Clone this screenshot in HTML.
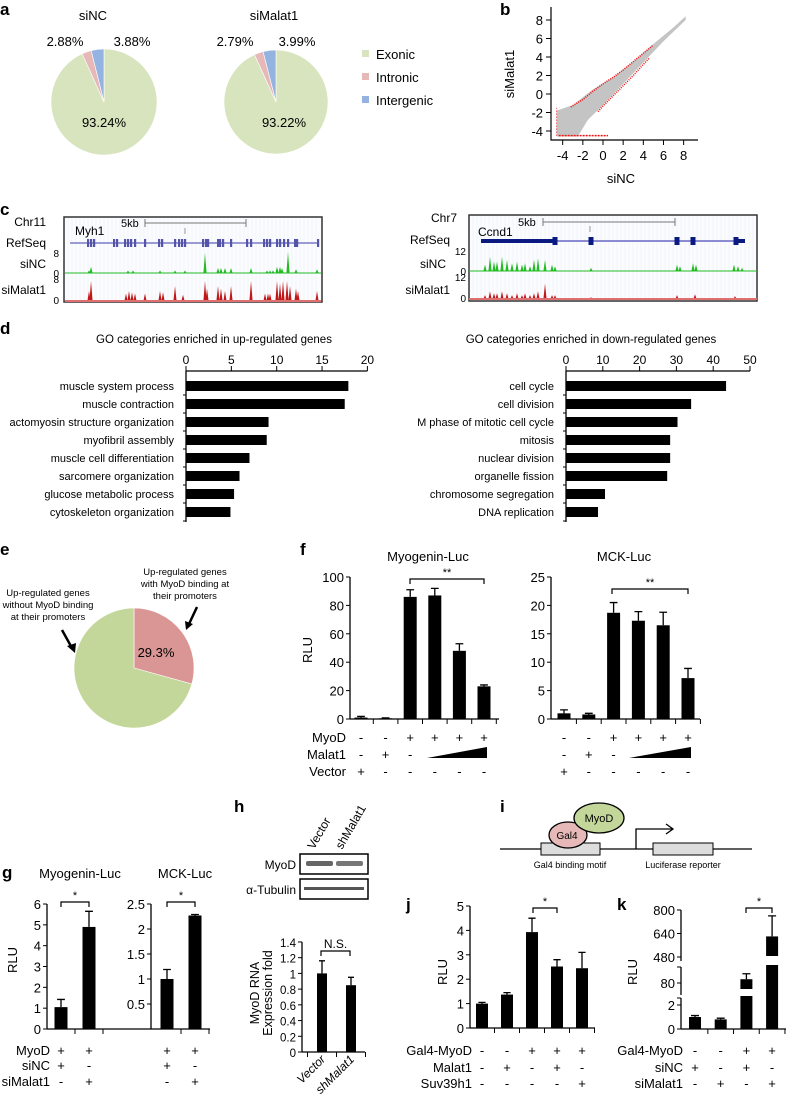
<!DOCTYPE html>
<html><head><meta charset="utf-8"><style>
html,body{margin:0;padding:0;background:#fff;}
svg{display:block;font-family:"Liberation Sans Narrow","Liberation Sans",sans-serif;}
.pl{font-family:"Liberation Sans",sans-serif;font-weight:bold;font-size:17px;}
</style></head><body>
<svg id="fig" width="787" height="1094" viewBox="0 0 787 1094">
<g>
<text class="pl" x="0" y="15">a</text><text class="pl" x="500" y="15">b</text>
<text class="pl" x="0" y="215">c</text><text class="pl" x="0" y="334">d</text>
<text class="pl" x="0" y="555">e</text><text class="pl" x="300" y="555">f</text>
<text class="pl" x="2" y="878">g</text><text class="pl" x="234" y="812">h</text>
<text class="pl" x="500" y="812">i</text><text class="pl" x="406" y="910">j</text>
<text class="pl" x="617" y="910">k</text>
</g>
</svg>
<script>
// ---------- DATA ----------
const pieCats=['Exonic','Intronic','Intergenic'];
const pieSiNC=[93.24,2.88,3.88];
const pieSiMalat1=[93.22,2.79,3.99];
const pieColors=['#d7e4bd','#e6b9b8','#95b3e0'];
const goUpCats=['muscle system process','muscle contraction','actomyosin structure organization','myofibril assembly','muscle cell differentiation','sarcomere organization','glucose metabolic process','cytoskeleton organization'];
const goUpVals=[17.9,17.5,9.1,8.9,7.0,5.9,5.3,4.9];
const goUpTicks=[0,5,10,15,20];
const goDownCats=['cell cycle','cell division','M phase of mitotic cell cycle','mitosis','nuclear division','organelle fission','chromosome segregation','DNA replication'];
const goDownVals=[43.5,34,30.3,28.3,28.3,27.5,10.6,8.7];
const goDownTicks=[0,10,20,30,40,50];
const eVals=[29.3,70.7];
const f1Vals=[1,0.5,86,87,48,23];const f1Errs=[0.8,0.3,5,5,5,1];const f1Ticks=[0,20,40,60,80,100];
const f2Vals=[1,0.8,18.7,17.3,16.5,7.2];const f2Errs=[0.6,0.2,1.8,1.6,2.3,1.7];const f2Ticks=[0,5,10,15,20,25];
const fMyoD=['-','-','+','+','+','+'];const fMalat1=['-','+','-','','',''];const fVector=['+','-','-','-','-','-'];
const g1Vals=[1.05,4.9];const g1Errs=[0.37,0.75];const g1Ticks=[0,1,2,3,4,5,6];
const g2Vals=[1.0,2.27];const g2Errs=[0.19,0.02];const g2Ticks=[0,0.5,1,1.5,2,2.5];const g2TickLabels=['','0.5','1','1.5','2','2.5'];
const gMyoD=['+','+'];const gSiNC=['+','-'];const gSiMalat1=['-','+'];
const hVals=[1.0,0.85];const hErrs=[0.16,0.1];const hTicks=[0,0.2,0.4,0.6,0.8,1,1.2,1.4];const hTickLabels=['0','0.2','0.4','0.6','0.8','1','1.2','1.4'];
const hCats=['Vector','shMalat1'];
const jVals=[1.0,1.37,3.93,2.52,2.45];const jErrs=[0.05,0.08,0.57,0.28,0.65];const jTicks=[0,1,2,3,4,5];
const jGal4=['-','-','+','+','+'];const jMalat1=['-','+','-','+','-'];const jSuv=['-','-','-','-','+'];
const kVals=[1.0,0.8,89,620];const kErrs=[0.12,0.1,13,140];const kTicks=[0,2,80,480,640,800];
const kGal4=['-','-','+','+'];const kSiNC=['+','-','+','-'];const kSiMalat1=['-','+','-','+'];
// genome tracks
const myhExons=[88,91,94,114,117,125,128,131,135,145,159,162,175,179,182,185,203,206,208,218,220,223,231,247,251,264,267,270,277,280,284,288,295,297,318];
const myhNCpos=[91,89,128,133,160,175,185,205,218,221,225,231,251,267,270,273,277,280,282,288,296,317];
const myhNCval=[2.5,1,1,1,1,1,1,8,2,2,2,2,2,1,1,1,2.5,2.5,2,8.5,1.5,1.5];
const myhMPos=[89,91,126,129,132,135,145,160,163,175,183,205,207,218,221,225,231,251,265,268,270,277,280,283,287,290,296,298,317];
const myhMVal=[4,8,3,4,3.5,3,3,4,3.5,6,2.5,8,5,6,5,4,6,8,3,3,3,8,7,8,8,6,5,4,4];
const ccnExons=[555,591,677,693,736];
const ccnNCpos=[485,490,494,497,502,507,512,517,522,525,530,534,538,545,552,555,591,677,680,693,696,734,738,742];
const ccnNCval=[4,9,6,6,9,7,5,6,4,5,3,7,8,7,4,3,2,4,3,5,4,4,3,2];
const ccnMPos=[485,490,494,497,502,507,512,517,522,525,530,534,538,545,552,555,591,677,695,735];
const ccnMVal=[2,4,3,3,4,3,2,3,2,3,2,3,4,8,2,2,1,2,2.5,1.5];

// ---------- HELPERS ----------
const NS='http://www.w3.org/2000/svg';
const svg=document.getElementById('fig');
function mk(tag,a,p){const e=document.createElementNS(NS,tag);for(const k in a)e.setAttribute(k,a[k]);(p||svg).appendChild(e);return e;}
function txt(s,a,p){const e=mk('text',a,p);e.textContent=s;return e;}
function grp(name){const g=mk('g',{});return g;}

// ---------- PANEL A ----------
function pie(g,cx,cy,r,vals,colors,start){
  let a=start;const tot=vals.reduce((s,v)=>s+v,0);
  vals.forEach((v,i)=>{
    const a2=a+v/tot*2*Math.PI;
    const x1=cx+r*Math.sin(a),y1=cy-r*Math.cos(a),x2=cx+r*Math.sin(a2),y2=cy-r*Math.cos(a2);
    const large=(a2-a)>Math.PI?1:0;
    const p=mk('path',{d:`M${cx},${cy}L${x1},${y1}A${r},${r} 0 ${large} 1 ${x2},${y2}Z`,fill:colors[i],stroke:'#fff','stroke-width':0.6},g);
    
    
    a=a2;
  });
}
(function(){
  const g=grp('panel-a-pies');
  const t1=txt('siNC',{x:93,y:20,'font-size':13,'text-anchor':'middle'},g);
  const t2=txt('siMalat1',{x:274,y:20,'font-size':13,'text-anchor':'middle'},g);
  pie(g,104,102,53,pieSiNC,pieColors,0);
  pie(g,276,102,52,pieSiMalat1,pieColors,0);
  const lbl=[[pieSiNC[1],65],[pieSiNC[2],132],[pieSiMalat1[1],235],[pieSiMalat1[2],297]];
  lbl.forEach(l=>{const t=txt(l[0].toFixed(2)+'%',{x:l[1],y:46,'font-size':13,'text-anchor':'middle'},g);});
  const m1=txt(pieSiNC[0].toFixed(2)+'%',{x:104,y:127,'font-size':13,'text-anchor':'middle'},g);
  const m2=txt(pieSiMalat1[0].toFixed(2)+'%',{x:284,y:127,'font-size':13,'text-anchor':'middle'},g);
  const ly=[55,78,101];
  pieCats.forEach((c,i)=>{
    const r=mk('rect',{x:362,y:ly[i]-5,width:7,height:7,fill:pieColors[i]},g);
    
    const t=txt(c,{x:376,y:ly[i]+4,'font-size':13},g);
    
  });
})();

// ---------- PANEL B ----------
(function(){
  const g=grp('panel-b-scatter');
  const bx=v=>603+v*10.08, by=v=>94-v*9.25;
  const cloud=[[-4.6,-4.6],[-4.6,-1.8],[-3,-1.2],[-1,0.5],[1,1.8],[3,3.5],[5,5.4],[7,7.2],[8.2,8.4],[8.2,8.0],[6,5.7],[4,3.4],[2,1.1],[0,-1.2],[-1.5,-2.8],[-2.5,-4.6]];
  const p=mk('polygon',{points:cloud.map(c=>bx(c[0])+','+by(c[1])).join(' '),fill:'#c4c4c4'},g);
  
  const up=[[-3.2,-1.4],[-2,-0.6],[-1,0.3],[0,1.1],[1,1.8],[2,2.6],[3,3.5],[4,4.4],[5,5.3]];
  const lo=[[-0.5,-1.9],[0,-1.3],[1,-0.2],[2,0.9],[3,2.0],[4,3.2],[4.6,3.9]];
  [up,lo].forEach(arr=>{const l=mk('polyline',{points:arr.map(c=>bx(c[0])+','+by(c[1])).join(' '),fill:'none',stroke:'#ee1111','stroke-width':1.6,'stroke-dasharray':'1 1.2'},g);});
  const b1=mk('line',{x1:bx(-4.4),y1:by(-4.5),x2:bx(0.5),y2:by(-4.5),stroke:'#ee1111','stroke-width':1.4,'stroke-dasharray':'2 1'},g);
  const b2=mk('line',{x1:bx(-4.6),y1:by(-4.5),x2:bx(-4.6),y2:by(-1.5),stroke:'#ee1111','stroke-width':1,'stroke-dasharray':'1 2'},g);
  const ax=mk('path',{d:'M551,7V140H698',fill:'none',stroke:'#000','stroke-width':1.2},g);
  [-4,-2,0,2,4,6,8].forEach(v=>{
    mk('line',{x1:bx(v),y1:140,x2:bx(v),y2:145,stroke:'#000'},g);
    const t=txt(String(v),{x:bx(v),y:160,'font-size':13,'text-anchor':'middle'},g);
    mk('line',{x1:546,y1:by(v),x2:551,y2:by(v),stroke:'#000'},g);
    const u=txt(String(v),{x:543,y:by(v)+5,'font-size':13,'text-anchor':'end'},g);
  });
  const xt=txt('siNC',{x:621,y:183,'font-size':13,'text-anchor':'middle'},g);
  const yt=txt('siMalat1',{x:0,y:0,'font-size':13,'text-anchor':'middle',transform:'translate(514,74) rotate(-90)'},g);
})();

// ---------- PANEL C ----------
function track(g,x0,x1,base,top,maxV,pos,vals,color){
  const s=(base-top)/maxV;
  mk('line',{x1:x0,y1:base,x2:x1,y2:base,stroke:color,'stroke-width':1},g);
  pos.forEach((p,i)=>{
    const h=vals[i]*s;
    const pk=mk('path',{d:`M${p-1.6},${base}L${p},${base-h}L${p+1.6},${base}Z`,fill:color},g);
    
  });
}
(function(){
  const g=grp('panel-c-browser-myh1');
  const bg=mk('rect',{x:64,y:217,width:258,height:85,fill:'#fbfcff',stroke:'#333','stroke-width':1.5},g);
  for(let x=68;x<320;x+=4)mk('line',{x1:x,y1:218,x2:x,y2:301,stroke:'#eef0f6','stroke-width':0.6},g);
  mk('line',{x1:145,y1:223,x2:246,y2:223,stroke:'#777'},g);mk('line',{x1:145,y1:219,x2:145,y2:227,stroke:'#777'},g);mk('line',{x1:246,y1:219,x2:246,y2:227,stroke:'#777'},g);
  mk('line',{x1:185,y1:228,x2:185,y2:234,stroke:'#999'},g);
  txt('5kb',{x:121,y:227,'font-size':11},g);txt('Myh1',{x:75,y:235,'font-size':12},g);
  mk('line',{x1:70,y1:243,x2:319,y2:243,stroke:'#7b7bc8','stroke-width':1.5},g);
  myhExons.forEach(x=>{const r=mk('rect',{x:x-1,y:239,width:2.2,height:8,fill:'#5454aa'},g);});
  track(g,65,321,273,253,8,myhNCpos,myhNCval,'#22bb22');
  track(g,65,321,301,281,8,myhMPos,myhMVal,'#c01818');
  mk('line',{x1:65,y1:301,x2:321,y2:301,stroke:'#e07070','stroke-width':2},g);
  [['Chr11',226],['RefSeq',247],['siNC',268],['siMalat1',294]].forEach(l=>{const t=txt(l[0],{x:46,y:l[1],'font-size':12,'text-anchor':'end'},g);});
  [['8',257],['0',277],['8',283],['0',304]].forEach(l=>{txt(l[0],{x:59,y:l[1],'font-size':10,'text-anchor':'end'},g);});
})();
(function(){
  const g=grp('panel-c-browser-ccnd1');
  const bg=mk('rect',{x:469,y:215,width:288,height:86,fill:'#fbfcff',stroke:'#333','stroke-width':1.5},g);
  for(let x=473;x<755;x+=4)mk('line',{x1:x,y1:216,x2:x,y2:300,stroke:'#eef0f6','stroke-width':0.6},g);
  mk('line',{x1:543,y1:222,x2:675,y2:222,stroke:'#777'},g);mk('line',{x1:543,y1:218,x2:543,y2:226,stroke:'#777'},g);mk('line',{x1:675,y1:218,x2:675,y2:226,stroke:'#777'},g);
  mk('line',{x1:590,y1:226,x2:590,y2:232,stroke:'#999'},g);
  txt('5kb',{x:518,y:226,'font-size':11},g);txt('Ccnd1',{x:478,y:236,'font-size':12},g);
  mk('line',{x1:481,y1:241,x2:745,y2:241,stroke:'#4a4ab8','stroke-width':1.2},g);
  mk('rect',{x:481,y:239,width:74,height:4,fill:'#0a1a80'},g);
  ccnExons.forEach(x=>{const r=mk('rect',{x:x-2.5,y:237,width:5,height:8,fill:'#0a1a80'},g);});
  mk('path',{d:'M736,239H745V243H736Z',fill:'#0a1a80'},g);
  track(g,469,757,271,252,12,ccnNCpos,ccnNCval,'#22bb22');
  track(g,469,757,299,276,12,ccnMPos,ccnMVal,'#c01818');
  mk('line',{x1:469,y1:299,x2:757,y2:299,stroke:'#e07070','stroke-width':2},g);
  [['Chr7',222,457],['RefSeq',244,450],['siNC',268,446],['siMalat1',294,450]].forEach(l=>{const t=txt(l[0],{x:l[2],y:l[1],'font-size':12,'text-anchor':'end'},g);});
  [['12',255],['0',275],['12',281],['0',302]].forEach(l=>{txt(l[0],{x:466,y:l[1],'font-size':10,'text-anchor':'end'},g);});
})();

// ---------- PANEL D ----------
function hbar(name,title,titleX,x0,pxPer,ticks,cats,vals){
  const g=grp(name);
  const xs=v=>x0+v*pxPer;
  const t=txt(title,{x:titleX,y:343,'font-size':11.5,'text-anchor':'middle'},g);
  mk('line',{x1:x0,y1:371,x2:xs(ticks[ticks.length-1]),y2:371,stroke:'#000','stroke-width':1.3},g);
  ticks.forEach(v=>{mk('line',{x1:xs(v),y1:366,x2:xs(v),y2:371,stroke:'#000'},g);const u=txt(String(v),{x:xs(v),y:364,'font-size':12,'text-anchor':'middle'},g);});
  mk('line',{x1:x0,y1:371,x2:x0,y2:522,stroke:'#000','stroke-width':1.3},g);
  cats.forEach((c,i)=>{
    const yc=386+i*18;
    mk('line',{x1:x0-3,y1:yc+9,x2:x0,y2:yc+9,stroke:'#000'},g);
    const b=mk('rect',{x:x0,y:yc-5,width:xs(vals[i])-x0,height:10,fill:'#000'},g);
    
    const l=txt(c,{x:x0-12,y:yc+4,'font-size':11,'text-anchor':'end'},g);
  });
}
hbar('panel-d-up','GO categories enriched in up-regulated genes',214,186,9.07,goUpTicks,goUpCats,goUpVals);
hbar('panel-d-down','GO categories enriched in down-regulated genes',591,566,3.68,goDownTicks,goDownCats,goDownVals);

// ---------- PANEL E ----------
(function(){
  const g=grp('panel-e-pie');
  pie(g,134,668,60,eVals,['#da9694','#c4d79b'],0);
  const t=txt(eVals[0]+'%',{x:156,y:657,'font-size':13,'text-anchor':'middle'},g);
  ['Up-regulated genes','without MyoD binding','at their promoters'].forEach((s,i)=>txt(s,{x:48,y:596+i*12,'font-size':9.5,'text-anchor':'middle'},g));
  ['Up-regulated genes','with MyoD binding at','their promoters'].forEach((s,i)=>txt(s,{x:185,y:575+i*12,'font-size':9.5,'text-anchor':'middle'},g));
  mk('line',{x1:62,y1:630,x2:72,y2:648,stroke:'#000','stroke-width':2.5},g);mk('path',{d:'M67,646L75,653L76,643Z',fill:'#000'},g);
  mk('line',{x1:197,y1:607,x2:189,y2:624,stroke:'#000','stroke-width':2.5},g);mk('path',{d:'M185,621L186,630L193,624Z',fill:'#000'},g);
})();

// ---------- BAR CHART ----------
function barChart(c){
  const g=grp(c.name);
  const n=c.values.length;
  mk('line',{x1:c.ax,y1:c.y0,x2:c.ax,y2:c.ys(c.ticks[c.ticks.length-1]),stroke:'#000','stroke-width':1.3},g);
  c.ticks.forEach((v,i)=>{
    mk('line',{x1:c.ax-4,y1:c.ys(v),x2:c.ax,y2:c.ys(v),stroke:'#000'},g);
    const lab=c.tickLabels?c.tickLabels[i]:String(v);
    const t=txt(lab,{x:c.ax-6,y:c.ys(v)+5,'font-size':c.fs||13,'text-anchor':'end'},g);
  });
  mk('line',{x1:c.ax,y1:c.y0,x2:c.axEnd,y2:c.y0,stroke:'#000','stroke-width':1.3},g);
  for(let i=0;i<=n;i++){const x=c.start-c.step/2+i*c.step;if(x>c.ax+2&&x<=c.axEnd+1)mk('line',{x1:x,y1:c.y0,x2:x,y2:c.y0+5,stroke:'#000'},g);}
  c.values.forEach((v,i)=>{
    const x=c.start+i*c.step;
    const b=mk('rect',{x:x-c.bw/2,y:c.ys(v),width:c.bw,height:c.y0-c.ys(v),fill:'#000'},g);
    
    const e=mk('path',{d:`M${x},${c.ys(v)}V${c.ys(v+c.errs[i])}M${x-c.bw*0.3},${c.ys(v+c.errs[i])}H${x+c.bw*0.3}`,stroke:'#000','stroke-width':1.3,fill:'none'},g);
    
  });
  return g;
}
function bracket(g,x1,x2,y,label,fs){
  mk('path',{d:`M${x1},${y+5}V${y}H${x2}V${y+5}`,fill:'none',stroke:'#000','stroke-width':1.2},g);
  const t=txt(label,{x:(x1+x2)/2,y:y-3,'font-size':fs||11,'text-anchor':'middle'},g);
}
function signRow(g,label,labelX,y,signs,start,step,fs){
  if(label){const t=txt(label,{x:labelX,y:y+5,'font-size':fs||13,'text-anchor':'end'},g);}
  signs.forEach((s,i)=>{if(s){const t=txt(s,{x:start+i*step,y:y+5,'font-size':fs||13,'text-anchor':'middle'},g);}});
}
function rlu(g,x,y){const t=txt('RLU',{x:0,y:0,'font-size':13,'text-anchor':'middle',transform:`translate(${x},${y}) rotate(-90)`},g);}

// ---------- PANEL F ----------
(function(){
  const y1=v=>719-v*1.42, y2=v=>719-v*5.68;
  const g1=barChart({name:'panel-f-myogenin',ax:350,axEnd:499,y0:719,ys:y1,ticks:f1Ticks,values:f1Vals,errs:f1Errs,start:361,step:24.6,bw:13});
  const g2=barChart({name:'panel-f-mck',ax:551,axEnd:700,y0:719,ys:y2,ticks:f2Ticks,values:f2Vals,errs:f2Errs,start:564,step:24.8,bw:13});
  txt('Myogenin-Luc',{x:428,y:561,'font-size':13,'text-anchor':'middle'},g1);
  txt('MCK-Luc',{x:624,y:561,'font-size':13,'text-anchor':'middle'},g2);
  rlu(g1,312,650);
  bracket(g1,410,484,579,'**');bracket(g2,612,688,589,'**');
  signRow(g1,'MyoD',346,737,fMyoD,361,24.6);signRow(g1,'Malat1',346,754,fMalat1,361,24.6);signRow(g1,'Vector',346,771,fVector,361,24.6);
  signRow(g2,'',0,737,fMyoD,564,24.8);signRow(g2,'',0,754,fMalat1,564,24.8);signRow(g2,'',0,771,fVector,564,24.8);
  const w1=mk('path',{d:'M427,758L487,747V758Z',fill:'#000'},g1);
  const w2=mk('path',{d:'M629,758L691,747V758Z',fill:'#000'},g2);
})();

// ---------- PANEL G ----------
(function(){
  const y1=v=>1029-v*20.83, y2=v=>1029-v*50;
  const g1=barChart({name:'panel-g-myogenin',ax:47,axEnd:105,y0:1029,ys:y1,ticks:g1Ticks,values:g1Vals,errs:g1Errs,start:61,step:28,bw:13});
  const g2=barChart({name:'panel-g-mck',ax:151,axEnd:210,y0:1029,ys:y2,ticks:g2Ticks,tickLabels:g2TickLabels,values:g2Vals,errs:g2Errs,start:167,step:28,bw:13});
  mk('line',{x1:105,y1:1029,x2:151,y2:1029,stroke:'#000','stroke-width':1.3},g1);
  txt('Myogenin-Luc',{x:80,y:878,'font-size':13,'text-anchor':'middle'},g1);
  txt('MCK-Luc',{x:185,y:878,'font-size':13,'text-anchor':'middle'},g2);
  rlu(g1,17,960);
  bracket(g1,61,89,902,'*');bracket(g2,167,195,902,'*');
  signRow(g1,'MyoD',50,1050,gMyoD,61,28);signRow(g1,'siNC',50,1065,gSiNC,61,28);signRow(g1,'siMalat1',50,1081,gSiMalat1,61,28);
  signRow(g2,'',0,1050,gMyoD,167,28);signRow(g2,'',0,1065,gSiNC,167,28);signRow(g2,'',0,1081,gSiMalat1,167,28);
})();

// ---------- PANEL H ----------
(function(){
  const g=grp('panel-h');
  [['Vector',314],['shMalat1',342]].forEach(l=>{const t=txt(l[0],{x:0,y:0,'font-size':12,transform:`translate(${l[1]},850) rotate(-60)`},g);});
  const b1=mk('rect',{x:300,y:854,width:68,height:20,fill:'#fff',stroke:'#000','stroke-width':1.5},g);
  mk('rect',{x:306,y:861,width:27,height:5,fill:'#666',rx:2},g);mk('rect',{x:336,y:861,width:27,height:5,fill:'#777',rx:2},g);
  const b2=mk('rect',{x:300,y:879,width:68,height:20,fill:'#fff',stroke:'#000','stroke-width':1.5},g);
  mk('rect',{x:304,y:887,width:60,height:3,fill:'#555'},g);
  txt('MyoD',{x:296,y:869,'font-size':12,'text-anchor':'end'},g);
  txt('α-Tubulin',{x:296,y:894,'font-size':12,'text-anchor':'end'},g);
  const ys=v=>1052-v*78.6;
  const gc=barChart({name:'panel-h-myod-rna',ax:302,axEnd:365,y0:1052,ys:ys,ticks:hTicks,tickLabels:hTickLabels,values:hVals,errs:hErrs,start:322,step:29,bw:10,fs:11.5});
  bracket(gc,321,350,951,'N.S.',12);
  const a=txt('MyoD RNA',{x:0,y:0,'font-size':12.5,'text-anchor':'middle',transform:'translate(259,993) rotate(-90)'},gc);
  txt('Expression fold',{x:0,y:0,'font-size':12.5,'text-anchor':'middle',transform:'translate(272,993) rotate(-90)'},gc);
  hCats.forEach((c,i)=>{const t=txt(c,{x:0,y:0,'font-size':12,'font-style':'italic','text-anchor':'end',transform:`translate(${326+i*29},1060) rotate(-45)`},gc);});
})();

// ---------- PANEL I ----------
(function(){
  const g=grp('panel-i-schematic');
  mk('line',{x1:500,y1:849,x2:752,y2:849,stroke:'#000','stroke-width':1.2},g);
  const r1=mk('rect',{x:541,y:843,width:59,height:12,fill:'#ddd',stroke:'#000'},g);
  const r2=mk('rect',{x:653,y:843,width:60,height:12,fill:'#ddd',stroke:'#000'},g);
  const e1=mk('ellipse',{cx:568,cy:835,rx:19,ry:13,fill:'#e6b9b8',stroke:'#000','stroke-width':1.3},g);
  const e2=mk('ellipse',{cx:599,cy:818,rx:25,ry:15,fill:'#c4d79b',stroke:'#000','stroke-width':1.3},g);
  txt('Gal4',{x:567,y:839,'font-size':10,'text-anchor':'middle'},g);
  txt('MyoD',{x:599,y:822,'font-size':11,'text-anchor':'middle'},g);
  mk('path',{d:'M636,849V829H672M666,824L673,829L666,834',fill:'none',stroke:'#000','stroke-width':1.3},g);
  txt('Gal4 binding motif',{x:570,y:868,'font-size':9,'text-anchor':'middle'},g);
  txt('Luciferase reporter',{x:683,y:868,'font-size':9,'text-anchor':'middle'},g);
})();

// ---------- PANEL J ----------
(function(){
  const ys=v=>1028-v*24.4;
  const g=barChart({name:'panel-j',ax:470,axEnd:595,y0:1028,ys:ys,ticks:jTicks,values:jVals,errs:jErrs,start:482,step:25,bw:12});
  rlu(g,447,972);
  bracket(g,533,557,908,'*');
  signRow(g,'Gal4-MyoD',472,1050,jGal4,482,25);signRow(g,'Malat1',472,1067,jMalat1,482,25);signRow(g,'Suv39h1',472,1083,jSuv,482,25);
})();

// ---------- PANEL K (broken axis) ----------
(function(){
  const g=grp('panel-k');
  const yK=v=>v<=2.5?1029-v*12:(v<=200?983-(v-80)*0.42:957-(v-480)*0.147);
  const ax=681;
  [[1029,998],[995,967],[961,910]].forEach(s=>{mk('line',{x1:ax,y1:s[0],x2:ax,y2:s[1],stroke:'#000','stroke-width':1.3},g);mk('line',{x1:ax-4,y1:s[1],x2:ax,y2:s[1],stroke:'#000'},g);});
  kTicks.forEach(v=>{mk('line',{x1:ax-4,y1:yK(v),x2:ax,y2:yK(v),stroke:'#000'},g);const t=txt(String(v),{x:ax-6,y:yK(v)+5,'font-size':13,'text-anchor':'end'},g);});
  mk('line',{x1:ax,y1:1029,x2:786,y2:1029,stroke:'#000','stroke-width':1.3},g);
  const start=695,step=25.7,bw=12;
  for(let i=0;i<=kVals.length;i++){const x=start-step/2+i*step;if(x>ax+2)mk('line',{x1:x,y1:1029,x2:x,y2:1034,stroke:'#000'},g);}
  const breaks=[[989,996],[956,965]];
  kVals.forEach((v,i)=>{
    const x=start+i*step;
    const b=mk('rect',{x:x-bw/2,y:yK(v),width:bw,height:1029-yK(v),fill:'#000'},g);
    
    let gap=null;breaks.forEach(br=>{if(yK(v)<br[0]-3)gap=br;});
    if(gap)mk('rect',{x:x-bw/2-1,y:gap[0],width:bw+2,height:gap[1]-gap[0],fill:'#fff'},g);
    const e=mk('path',{d:`M${x},${yK(v)}V${yK(v+kErrs[i])}M${x-4},${yK(v+kErrs[i])}H${x+4}`,stroke:'#000','stroke-width':1.3,fill:'none'},g);
    
  });
  rlu(g,637,972);
  bracket(g,746,772,908,'*');
  signRow(g,'Gal4-MyoD',683,1050,kGal4,695,25.7);signRow(g,'siNC',683,1067,kSiNC,695,25.7);signRow(g,'siMalat1',683,1083,kSiMalat1,695,25.7);
})();
</script>
</body></html>
